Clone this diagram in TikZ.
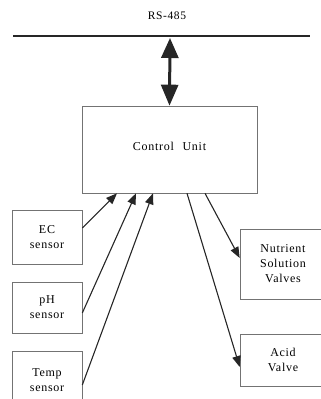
\documentclass[tikz,border=0pt]{standalone}
\usepackage{fontspec}
\setmainfont{Liberation Serif}
\usetikzlibrary{arrows.meta}
\begin{document}
\begin{tikzpicture}[x=1pt,y=-1pt,
  blk/.style={draw=black!55,line width=0.6pt,inner sep=0pt,align=center,
    font=\fontsize{12}{15}\selectfont\addfontfeature{LetterSpace=6}},
  link/.style={draw=black!85,line width=1.1pt,
    -{Triangle[length=11pt,width=8.5pt]},shorten >=0pt},
  busline/.style={line width=2.6pt,black!85},
  duplex/.style={line width=3pt,black!85,
    {Triangle[length=20pt,width=17pt]}-{Triangle[length=21pt,width=17pt]}}]
\useasboundingbox (0,0) rectangle (321,399);

% field bus
\node[font=\fontsize{11.5}{13}\selectfont\addfontfeature{LetterSpace=5}] (bus) at (167,16) {RS-485};
\coordinate (busL) at (13,36);
\coordinate (busR) at (310,36);
\draw[busline] (busL) -- (busR);
\coordinate (tap) at (170,38);

% controller
\node[blk,minimum width=175pt,minimum height=87pt] (cu) at (169.5,149.5)
  {\raisebox{6pt}{Control\hspace{5pt} Unit}};

% sensors
\node[blk,minimum width=70pt,minimum height=54pt] (ec) at (47,237) {EC\\sensor};
\node[blk,minimum width=70pt,minimum height=51pt] (ph) at (47,307.5) {pH\\sensor};
\node[blk,minimum width=70pt,minimum height=59pt] (temp) at (47,380.5)
  {\raisebox{8pt}{\begin{tabular}{@{}c@{}}Temp\\sensor\end{tabular}}};

% actuators
\node[blk,minimum width=86pt,minimum height=70pt] (nut) at (283,264)
  {Nutrient\\Solution\\Valves};
\node[blk,minimum width=86pt,minimum height=52pt] (acid) at (283,360) {Acid\\Valve};

% connections
\draw[duplex] (tap) -- (cu.north);
\draw[link] ([yshift=9pt]ec.east) -- ([xshift=-52.5pt]cu.south);
\draw[link] ([yshift=-5.5pt]ph.east) -- ([xshift=-33.5pt]cu.south);
\draw[link] ([yshift=-4.5pt]temp.east) -- ([xshift=-16.5pt]cu.south);
\draw[link] ([xshift=35.5pt]cu.south) -- ([yshift=6pt]nut.west);
\draw[link] ([xshift=17.5pt]cu.south) -- ([yshift=-7pt]acid.west);
\end{tikzpicture}
\end{document}
